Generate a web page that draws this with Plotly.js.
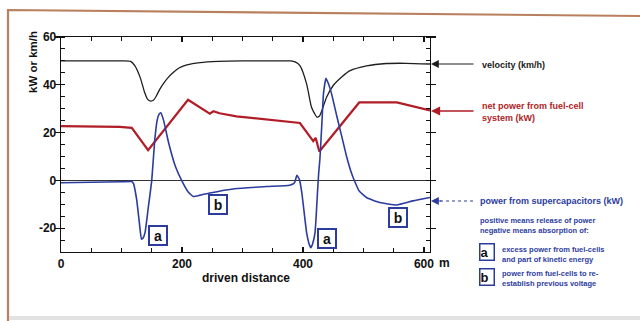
<!DOCTYPE html>
<html>
<head>
<meta charset="utf-8">
<script src="https://cdn.plot.ly/plotly-3.0.1.min.js"></script>
<style>
html,body{margin:0;padding:0;background:#fff;}
#chart{width:640px;height:321px;}
</style>
</head>
<body>
<div id="chart"></div>
<script>
// ---- data ----
var velocityX = [0, 50, 100, 115, 122, 131, 138, 143, 148, 153, 158, 163, 169, 177, 185, 195, 208, 230, 260, 300, 350, 380, 387, 395, 406, 414, 419, 423, 427, 431, 439, 450, 465, 478, 505, 538, 570, 610];
var velocityY = [50, 50, 50, 49.8, 48, 43, 37, 34, 33.2, 33.6, 35.5, 38, 40.4, 43, 45, 47, 48.3, 49.3, 49.8, 50, 50, 50, 49.6, 48, 40.4, 30.7, 28, 26.5, 26.8, 29, 34.8, 39.7, 43.5, 45.9, 47.9, 48.9, 49, 48.7];

var fuelCellX = [0, 50, 97, 117, 144, 210, 246, 252, 262, 290, 340, 395, 417, 421, 427, 493, 555, 593, 610];
var fuelCellY = [22.7, 22.6, 22.4, 22, 12.6, 33.7, 27.9, 28.9, 28.1, 26.8, 25.5, 24, 16.4, 17.8, 12.1, 32.6, 32.6, 30.3, 29.3];

var superCapX = [0, 50, 100, 117, 120, 125, 129.5, 133, 136, 139, 144, 150, 155, 159, 162, 165, 169.5, 178, 189, 200, 211, 219, 230, 244, 287, 340, 378, 386, 390, 394, 398, 406, 410, 413, 416, 420, 424, 426, 428, 431, 434, 438, 442, 447, 456, 464, 472, 480, 486, 493, 505, 527, 555, 582, 610];
var superCapY = [-1, -0.8, -0.6, -0.5, -1.5, -7.9, -17.6, -24.6, -24, -21.8, -12, 0, 16.9, 25.2, 27.6, 28.3, 25.2, 15.6, 5.9, -0.3, -5.1, -6.8, -6.2, -5.4, -3.5, -2.6, -2.1, -1, 2.1, 0.4, -5, -21.8, -26.5, -28.2, -26.5, -21.8, -5.1, 3.2, 8.8, 22.6, 36.5, 42.7, 40.5, 36.5, 26.8, 18.5, 10.1, 3.2, -0.7, -4.5, -7.2, -9.3, -10.3, -8.6, -7.2];

var markerLabels = ['a', 'b', 'a', 'b'];
var markerX = [161, 259, 440, 557];
var markerY = [-23, -10, -24.5, -15.5];

var xTickVals = [0, 200, 400, 600];
var xTickText = ['0', '200', '400', '600'];
var yTickVals = [-20, 0, 20, 40, 60];
var yTickText = ['-20', '0', '20', '40', '60'];

var seriesNames = ['velocity (km/h)', 'net power from fuel-cell<br>system (kW)', 'power from supercapacitors (kW)'];

// ---- styling ----
var BLACK = '#1e1e1e', RED = '#b11d26', BLUE = '#2b3c9e';
var L = 61, R = 430, T = 37, B = 252;
function px(x){ return (x - L) / (R - L); }
function py(y){ return (B - y) / (B - T); }

var traces = [
  {x: velocityX, y: velocityY, mode: 'lines', line: {color: BLACK, width: 1.3, shape: 'spline', smoothing: 0.6}, hoverinfo: 'skip'},
  {x: fuelCellX, y: fuelCellY, mode: 'lines', line: {color: RED, width: 2.2}, hoverinfo: 'skip'},
  {x: superCapX, y: superCapY, mode: 'lines', line: {color: BLUE, width: 1.6, shape: 'spline', smoothing: 0.4}, hoverinfo: 'skip'}
];

var boldFont = function(size, color){ return {family: 'Liberation Sans, Arial, sans-serif', size: size, color: color, weight: 'bold'}; };

function note(xp, yp, text, font, extra){
  var a = {x: px(xp), y: py(yp), xref: 'paper', yref: 'paper', text: text, showarrow: false,
    xanchor: 'left', yanchor: 'middle', align: 'left', font: font};
  return Object.assign(a, extra || {});
}

var annotations = [];
// boxed markers in the chart
for (var i = 0; i < markerLabels.length; i++) {
  annotations.push({x: markerX[i], y: markerY[i], xref: 'x', yref: 'y', text: markerLabels[i], showarrow: false,
    xanchor: 'center', yanchor: 'middle',
    font: boldFont(14, '#111'), bordercolor: BLUE, borderwidth: 2, borderpad: 1, bgcolor: '#fff', width: 14, height: 15});
}
// axis titles
annotations.push(note(33, 62, 'kW or km/h', boldFont(11.5, '#111'), {textangle: -90, xanchor: 'center'}));
annotations.push(note(246, 278, 'driven distance', boldFont(12, '#111'), {xanchor: 'center'}));
annotations.push(note(437, 263, 'm', boldFont(12, '#111')));

// arrows
annotations.push({x: px(431), y: py(64), xref: 'paper', yref: 'paper', ax: 44, ay: 0, text: '', showarrow: true, arrowhead: 2, arrowsize: 1.3, arrowwidth: 1.2, arrowcolor: BLACK});
annotations.push({x: px(431), y: py(111), xref: 'paper', yref: 'paper', ax: 44, ay: 0, text: '', showarrow: true, arrowhead: 2, arrowsize: 1.3, arrowwidth: 1.4, arrowcolor: RED});
annotations.push({x: px(431), y: py(201), xref: 'paper', yref: 'paper', ax: 12, ay: 0, text: '', showarrow: true, arrowhead: 2, arrowsize: 1.3, arrowwidth: 1.2, arrowcolor: BLUE});

// series labels
annotations.push(note(480, 65, seriesNames[0], boldFont(9, '#1a1a1a')));
annotations.push(note(480, 112, seriesNames[1], boldFont(9, RED)));
annotations.push(note(478, 201, seriesNames[2], boldFont(9, BLUE)));
annotations.push(note(478, 225, 'positive means release of power<br>negative means absorption of:', boldFont(7.5, BLUE)));
// legend boxes
annotations.push(note(487, 252, 'a', boldFont(13, '#111'), {xanchor: 'center', bordercolor: BLUE, borderwidth: 1.5, borderpad: 0, bgcolor: '#fff', width: 13, height: 15}));
annotations.push(note(487, 277, 'b', boldFont(13, '#111'), {xanchor: 'center', bordercolor: BLUE, borderwidth: 1.5, borderpad: 0, bgcolor: '#fff', width: 13, height: 15}));
annotations.push(note(500, 254, 'excess power from fuel-cells<br>and part of kinetic energy', boldFont(7.5, BLUE)));
annotations.push(note(500, 278, 'power from fuel-cells to re-<br>establish previous voltage', boldFont(7.5, BLUE)));

var shapes = [
  // dotted shaft of supercapacitor arrow
  {type: 'line', xref: 'paper', yref: 'paper', x0: px(440), x1: px(476), y0: py(201), y1: py(201), line: {color: BLUE, width: 1.2, dash: 'dot'}},
  // scanned page frame
  {type: 'path', xref: 'paper', yref: 'paper', path: 'M ' + px(8) + ' ' + py(321) + ' L ' + px(8) + ' ' + py(10) + ' L ' + px(640) + ' ' + py(16), line: {color: '#b9805f', width: 2.2}},
  {type: 'line', xref: 'paper', yref: 'paper', x0: px(9), x1: px(640), y0: py(318), y1: py(318), line: {color: '#e2e2e2', width: 4}}
];

var axisCommon = {showgrid: false, showline: true, linecolor: '#111', linewidth: 1.3, mirror: 'allticks', tickcolor: '#111', tickwidth: 1.1};

var layout = {
  width: 640, height: 321,
  margin: {l: L, r: 640 - R, t: T, b: 321 - B},
  paper_bgcolor: '#fff', plot_bgcolor: '#fff',
  showlegend: false,
  xaxis: Object.assign({}, axisCommon, {
    range: [0, 610], tickmode: 'array', tickvals: xTickVals, ticktext: xTickText,
    ticks: 'inside', ticklen: 5, zeroline: false,
    minor: {dtick: 50, ticks: 'inside', ticklen: 4, tickcolor: '#111', tickwidth: 1},
    tickfont: boldFont(12, '#111')
  }),
  yaxis: Object.assign({}, axisCommon, {
    range: [-30, 60], tickmode: 'array', tickvals: yTickVals, ticktext: yTickText,
    ticks: 'outside', ticklen: 5, ticklabelstandoff: -4,
    zeroline: true, zerolinecolor: '#333', zerolinewidth: 1.5,
    minor: {dtick: 5, ticks: 'inside', ticklen: 4, tickcolor: '#111', tickwidth: 1},
    tickfont: boldFont(12, '#111')
  }),
  annotations: annotations,
  shapes: shapes
};

Plotly.newPlot('chart', traces, layout, {staticPlot: true, displayModeBar: false});
</script>
</body>
</html>
